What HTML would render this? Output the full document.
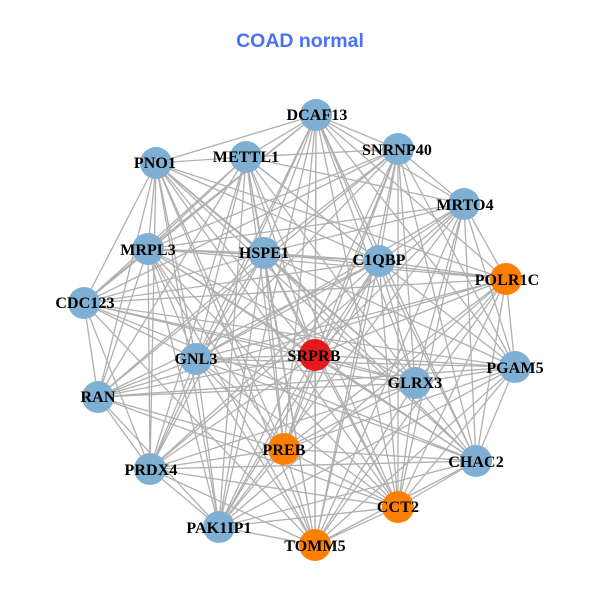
<!DOCTYPE html>
<html><head><meta charset="utf-8"><style>html,body{margin:0;padding:0;background:#fff}svg{display:block}</style></head><body>
<svg width="600" height="600" viewBox="0 0 600 600" xmlns="http://www.w3.org/2000/svg">
<rect width="600" height="600" fill="#fff"/>
<text x="300" y="47" text-anchor="middle" font-family="'Liberation Sans',sans-serif" font-weight="bold" font-size="19.5" fill="#4a72f2">COAD normal</text>
<g fill="none" stroke="#b0b0b0" stroke-width="1.3">
<path d="M316 115L398 149M316 115L464 204M316 115L506 279M316 115L515 367M316 115L476 461M316 115L398 507M316 115L315 545M316 115L219 527M316 115L150 469M316 115L84 303M316 115L148 249M316 115L156 163M316 115L246 157M316 115L264 253M316 115L379 261M316 115L196 359M316 115L315 355M316 115L415 383M316 115L284 449"/>
<path d="M398 149L464 204M398 149L515 367M398 149L476 461M398 149L398 507M398 149L315 545M398 149L219 527M398 149L98 397M398 149L84 303M398 149L148 249M398 149L246 157M398 149L264 253M398 149L379 261M398 149L196 359M398 149L315 355M398 149L415 383M398 149L284 449"/>
<path d="M464 204L506 279M464 204L515 367M464 204L476 461M464 204L398 507M464 204L315 545M464 204L219 527M464 204L150 469M464 204L148 249M464 204L246 157M464 204L264 253M464 204L379 261M464 204L196 359M464 204L315 355M464 204L415 383"/>
<path d="M506 279L515 367M506 279L476 461M506 279L398 507M506 279L315 545M506 279L219 527M506 279L98 397M506 279L84 303M506 279L148 249M506 279L156 163M506 279L264 253M506 279L379 261M506 279L196 359M506 279L315 355M506 279L415 383M506 279L284 449"/>
<path d="M515 367L476 461M515 367L398 507M515 367L315 545M515 367L219 527M515 367L98 397M515 367L84 303M515 367L246 157M515 367L264 253M515 367L379 261M515 367L196 359M515 367L315 355M515 367L415 383M515 367L284 449"/>
<path d="M476 461L398 507M476 461L315 545M476 461L219 527M476 461L150 469M476 461L84 303M476 461L148 249M476 461L156 163M476 461L264 253M476 461L379 261M476 461L196 359M476 461L315 355M476 461L415 383M476 461L284 449"/>
<path d="M398 507L315 545M398 507L219 527M398 507L150 469M398 507L98 397M398 507L148 249M398 507L156 163M398 507L246 157M398 507L264 253M398 507L379 261M398 507L196 359M398 507L315 355M398 507L415 383M398 507L284 449"/>
<path d="M315 545L219 527M315 545L150 469M315 545L84 303M315 545L148 249M315 545L156 163M315 545L246 157M315 545L264 253M315 545L379 261M315 545L196 359M315 545L315 355M315 545L415 383M315 545L284 449"/>
<path d="M219 527L150 469M219 527L98 397M219 527L148 249M219 527L156 163M219 527L246 157M219 527L264 253M219 527L379 261M219 527L196 359M219 527L315 355M219 527L284 449"/>
<path d="M150 469L98 397M150 469L84 303M150 469L148 249M150 469L156 163M150 469L246 157M150 469L264 253M150 469L379 261M150 469L196 359M150 469L315 355M150 469L415 383M150 469L284 449"/>
<path d="M98 397L84 303M98 397L148 249M98 397L156 163M98 397L246 157M98 397L264 253M98 397L379 261M98 397L196 359M98 397L315 355M98 397L415 383M98 397L284 449"/>
<path d="M84 303L148 249M84 303L156 163M84 303L246 157M84 303L264 253M84 303L379 261M84 303L196 359M84 303L315 355M84 303L415 383"/>
<path d="M148 249L156 163M148 249L246 157M148 249L264 253M148 249L379 261M148 249L196 359M148 249L315 355M148 249L415 383M148 249L284 449"/>
<path d="M156 163L246 157M156 163L264 253M156 163L379 261M156 163L196 359M156 163L315 355M156 163L415 383M156 163L284 449"/>
<path d="M246 157L264 253M246 157L379 261M246 157L196 359M246 157L315 355M246 157L415 383M246 157L284 449"/>
<path d="M264 253L379 261M264 253L196 359M264 253L315 355M264 253L415 383M264 253L284 449"/>
<path d="M379 261L196 359M379 261L315 355M379 261L415 383M379 261L284 449"/>
<path d="M196 359L315 355M196 359L415 383M196 359L284 449M315 355L415 383M315 355L284 449M415 383L284 449"/>
</g>
<g fill="#7fb0d3">
<circle cx="316" cy="115" r="16"/><circle cx="398" cy="149" r="16"/><circle cx="464" cy="204" r="16"/><circle cx="515" cy="367" r="16"/><circle cx="476" cy="461" r="16"/><circle cx="219" cy="527" r="16"/><circle cx="150" cy="469" r="16"/><circle cx="98" cy="397" r="16"/><circle cx="84" cy="303" r="16"/><circle cx="148" cy="249" r="16"/><circle cx="156" cy="163" r="16"/><circle cx="246" cy="157" r="16"/><circle cx="264" cy="253" r="16"/><circle cx="379" cy="261" r="16"/><circle cx="196" cy="359" r="16"/><circle cx="415" cy="383" r="16"/>
</g>
<g fill="#ff7f00">
<circle cx="506" cy="279" r="16"/><circle cx="398" cy="507" r="16"/><circle cx="315" cy="545" r="16"/><circle cx="284" cy="449" r="16"/>
</g>
<circle cx="315" cy="355" r="16" fill="#e41a1c"/>
<g font-family="'Liberation Serif',serif" font-weight="bold" font-size="16" fill="#000" text-anchor="middle" letter-spacing="0.1">
<text x="317" y="120">DCAF13</text><text x="397" y="155">SNRNP40</text><text x="465" y="210">MRTO4</text><text x="507" y="285">POLR1C</text><text x="515" y="373">PGAM5</text><text x="476" y="467">CHAC2</text><text x="398" y="512">CCT2</text><text x="315" y="551">TOMM5</text><text x="219" y="533">PAK1IP1</text><text x="151" y="475">PRDX4</text><text x="98" y="402">RAN</text><text x="85" y="308">CDC123</text><text x="148" y="255">MRPL3</text><text x="155" y="168">PNO1</text><text x="246" y="162">METTL1</text><text x="264" y="258">HSPE1</text><text x="379" y="265">C1QBP</text><text x="196" y="364">GNL3</text><text x="314" y="361">SRPRB</text><text x="415" y="388">GLRX3</text><text x="284" y="455">PREB</text>
</g>
</svg>
</body></html>
